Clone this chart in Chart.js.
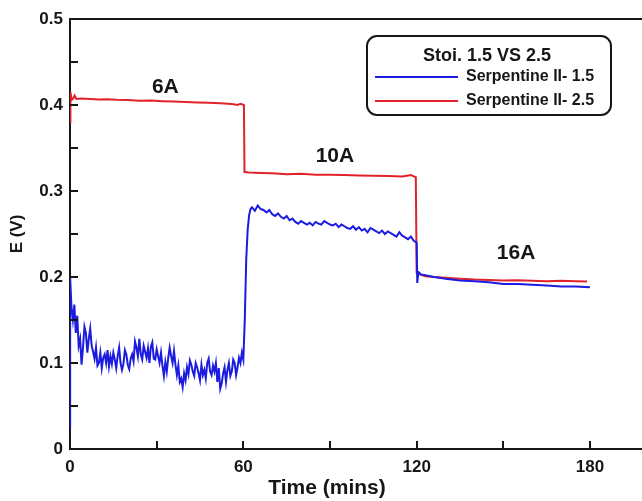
<!DOCTYPE html>
<html>
<head>
<meta charset="utf-8">
<script src="https://cdn.jsdelivr.net/npm/chart.js@4.4.1/dist/chart.umd.min.js"></script>
<style>
  html, body { margin: 0; padding: 0; background: #fff; }
</style>
</head>
<body>
<canvas id="chart" width="642" height="501"></canvas>
<script>
// evenly spaced sampling times (mins)
const steps = (from, to, step) =>
  Array.from({ length: Math.round((to - from) / step) + 1 }, (_, i) => +(from + i * step).toFixed(2));

// --- Serpentine II, stoich 1.5 ---
const blueTime = [
  0, 0.05,
  ...steps(0.5, 60, 0.5),
  60.5, 61, 61.5, 62, 62.5,
  ...steps(63, 120, 1),
  120.2, 120.6, 121.5, 123, 126, 130, 135, 140, 145, 150, 155, 160, 165, 170, 175, 180
];
const blueE = [
  0.025, 0.2,
  // 6A
  0.165, 0.15, 0.168, 0.135, 0.155, 0.12, 0.128, 0.098, 0.118, 0.142,
  0.135, 0.112, 0.128, 0.14, 0.12, 0.113, 0.105, 0.118, 0.097, 0.1,
  0.112, 0.094, 0.106, 0.11, 0.1, 0.115, 0.096, 0.108, 0.099, 0.112,
  0.104, 0.094, 0.108, 0.118, 0.1, 0.092, 0.099, 0.115, 0.11, 0.098,
  0.093, 0.105, 0.11, 0.102, 0.125, 0.118, 0.108, 0.128, 0.11, 0.104,
  0.12, 0.113, 0.106, 0.117, 0.1, 0.119, 0.124, 0.105, 0.104, 0.116,
  0.108, 0.1, 0.112, 0.097, 0.085, 0.101, 0.09, 0.106, 0.118, 0.108,
  0.1, 0.114, 0.098, 0.086, 0.097, 0.078, 0.082, 0.072, 0.088, 0.08,
  0.095, 0.087, 0.103, 0.098, 0.09, 0.085, 0.1, 0.095, 0.088, 0.08,
  0.098, 0.086, 0.092, 0.082, 0.1, 0.105, 0.09, 0.086, 0.097, 0.09,
  0.1, 0.078, 0.094, 0.07, 0.076, 0.088, 0.095, 0.078, 0.092, 0.1,
  0.085, 0.09, 0.104, 0.1, 0.086, 0.095, 0.106, 0.1, 0.112, 0.104,
  // step up to 10A
  0.15, 0.22, 0.255, 0.272, 0.279,
  // 10A
  0.281, 0.277, 0.283, 0.279, 0.278, 0.275, 0.278, 0.273, 0.271, 0.274,
  0.27, 0.268, 0.271, 0.266, 0.268, 0.264, 0.262, 0.265, 0.263, 0.261,
  0.263, 0.26, 0.264, 0.262, 0.261, 0.265, 0.263, 0.261, 0.26, 0.262,
  0.258, 0.261, 0.259, 0.257, 0.256, 0.259, 0.255, 0.258, 0.254, 0.256,
  0.252, 0.257, 0.255, 0.253, 0.251, 0.254, 0.25, 0.253, 0.251, 0.249,
  0.247, 0.252, 0.248, 0.246, 0.244, 0.247, 0.242, 0.24,
  // 16A
  0.193, 0.206, 0.203, 0.202, 0.2, 0.198, 0.196, 0.195, 0.194, 0.192, 0.192, 0.191, 0.19, 0.189, 0.189, 0.188
];

// --- Serpentine II, stoich 2.5 ---
const redTime = [
  0, 0.15, 0.6, 1.2, 1.6, 2.2, 4, 7, 10, 13, 16, 20, 24, 28, 32, 36, 40, 44, 48, 52, 56, 58, 59, 60.2,
  60.4, 62, 66, 70, 75, 80, 85, 90, 95, 100, 105, 110, 115, 118, 119, 119.7,
  120, 121, 123, 126, 130, 135, 140, 145, 150, 155, 160, 165, 170, 175, 179
];
const redE = [
  0.38, 0.415, 0.406, 0.408, 0.411, 0.407, 0.4075, 0.407, 0.4065, 0.4068, 0.406, 0.4058, 0.405, 0.4052,
  0.4045, 0.404, 0.4035, 0.403, 0.4025, 0.402, 0.4012, 0.4, 0.4015, 0.4,
  0.322, 0.3215, 0.321, 0.3205, 0.3195, 0.32, 0.319, 0.3188, 0.3185, 0.318, 0.3178, 0.3175, 0.317, 0.3185, 0.317, 0.316,
  0.205, 0.203, 0.201, 0.2, 0.199, 0.198, 0.197, 0.1965, 0.196, 0.1962, 0.1955, 0.195, 0.1955, 0.195, 0.1948
];

const seriesNames = ['Serpentine II- 1.5', 'Serpentine II- 2.5'];
const legendTitle = 'Stoi. 1.5 VS 2.5';
const loadSteps = ['6A', '10A', '16A'];
const xTicks = [0, 60, 120, 180];
const yTicks = [0, 0.1, 0.2, 0.3, 0.4, 0.5];

const FONT = "'Liberation Sans', Arial, Helvetica, sans-serif";
const INK = '#161616';
const BLUE = '#1c1ce0';
const RED = '#e2222a';

const pts = (t, v) => t.map((x, i) => ({ x, y: v[i] }));

// frame extras: top spine, inward ticks, step labels, legend box, x title
const decor = {
  id: 'decor',
  afterDraw(chart) {
    const { ctx, chartArea: a, scales: { x, y } } = chart;
    ctx.save();
    ctx.strokeStyle = INK;
    ctx.lineWidth = 2;
    ctx.beginPath();
    ctx.moveTo(a.left, a.top);
    ctx.lineTo(a.right, a.top);
    ctx.stroke();

    ctx.beginPath();
    x.ticks.forEach(t => {
      if (t.value <= 0) return;
      const px = Math.round(x.getPixelForValue(t.value));
      ctx.moveTo(px, a.bottom);
      ctx.lineTo(px, a.bottom - 8);
    });
    y.ticks.forEach(t => {
      const py = Math.round(y.getPixelForValue(t.value));
      ctx.moveTo(a.left, py);
      ctx.lineTo(a.left + 8, py);
    });
    ctx.stroke();

    // load step labels, anchored in data space
    const anchors = [[33, 0.421], [91.7, 0.34], [154.4, 0.228]];
    ctx.fillStyle = INK;
    ctx.font = `bold 21px ${FONT}`;
    ctx.textAlign = 'center';
    ctx.textBaseline = 'middle';
    loadSteps.forEach((s, i) => {
      ctx.fillText(s, x.getPixelForValue(anchors[i][0]), y.getPixelForValue(anchors[i][1]));
    });

    // legend
    const L = { x: 367, y: 36, w: 244, h: 79 };
    ctx.beginPath();
    ctx.roundRect(L.x, L.y, L.w, L.h, 10);
    ctx.fillStyle = '#fff';
    ctx.fill();
    ctx.stroke();
    ctx.fillStyle = INK;
    ctx.font = `bold 18px ${FONT}`;
    ctx.fillText(legendTitle, L.x + 120, L.y + 20);
    ctx.font = `bold 16px ${FONT}`;
    ctx.textAlign = 'left';
    chart.data.datasets.forEach((ds, i) => {
      const ly = L.y + 41 + i * 24;
      ctx.strokeStyle = ds.borderColor;
      ctx.beginPath();
      ctx.moveTo(L.x + 8, ly);
      ctx.lineTo(L.x + 91, ly);
      ctx.stroke();
      ctx.fillText(ds.label, L.x + 99, ly);
    });

    // x axis title
    ctx.textAlign = 'center';
    ctx.font = `bold 21px ${FONT}`;
    ctx.fillText('Time (mins)', 327, 488);
    ctx.restore();
  }
};

new Chart(document.getElementById('chart'), {
  type: 'line',
  data: {
    datasets: [
      { label: seriesNames[0], data: pts(blueTime, blueE), borderColor: BLUE, borderWidth: 2 },
      { label: seriesNames[1], data: pts(redTime, redE), borderColor: RED, borderWidth: 2 }
    ]
  },
  options: {
    responsive: false,
    animation: false,
    events: [],
    elements: { point: { radius: 0 }, line: { tension: 0 } },
    layout: { padding: { top: 19, right: 0, left: 0, bottom: 0 } },
    plugins: { legend: { display: false }, tooltip: { enabled: false } },
    scales: {
      x: {
        type: 'linear',
        min: 0,
        max: 198,
        grid: { display: false, drawTicks: false },
        border: { color: INK, width: 2 },
        ticks: {
          stepSize: 30,
          includeBounds: false,
          padding: 8,
          color: INK,
          font: { family: FONT, size: 17, weight: 'bold' },
          maxRotation: 0,
          autoSkip: false,
          callback: v => xTicks.includes(v) ? String(v) : ''
        },
        afterFit: s => { s.height = 52; }
      },
      y: {
        min: 0,
        max: 0.5,
        grid: { display: false, drawTicks: false },
        border: { color: INK, width: 2 },
        title: {
          display: true,
          text: 'E (V)',
          color: INK,
          font: { family: FONT, size: 17, weight: 'bold' },
          padding: { top: 7, bottom: 0 }
        },
        ticks: {
          stepSize: 0.05,
          padding: 7,
          color: INK,
          autoSkip: false,
          font: { family: FONT, size: 17, weight: 'bold' },
          callback: v => {
            const r = Math.round(v * 10) / 10;
            if (Math.abs(v - r) > 1e-6 || !yTicks.includes(r)) return '';
            return r === 0 ? '0' : r.toFixed(1);
          }
        },
        afterFit: s => { s.width = 70; }
      }
    }
  },
  plugins: [decor]
});
</script>
</body>
</html>
